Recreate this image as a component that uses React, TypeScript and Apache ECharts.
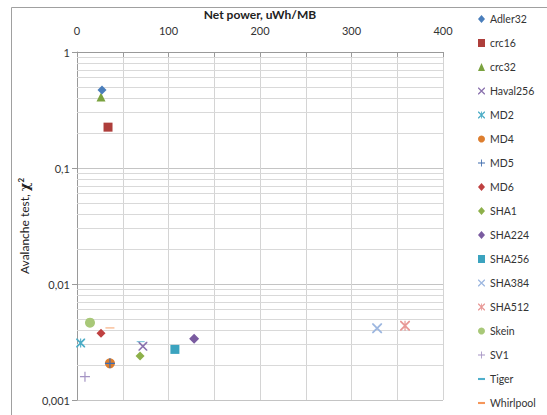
import React, { useEffect, useRef } from "react";
import * as echarts from "echarts";

const seriesNames = [
  "Adler32", "crc16", "crc32", "Haval256", "MD2", "MD4", "MD5", "MD6", "SHA1",
  "SHA224", "SHA256", "SHA384", "SHA512", "Skein", "SV1", "Tiger", "Whirlpool",
];
const netPower = [27.3, 33.9, 26.2, 72, 4, 36, 36, 26.2, 68.9, 128, 107, 328, 358.5, 14.2, 8.7, 69.6, 36];
const avalanche = [0.47, 0.225, 0.41, 0.0029, 0.0031, 0.00207, 0.00207, 0.00376, 0.00239, 0.00338, 0.00273, 0.00415, 0.00437, 0.00464, 0.00159, 0.00318, 0.00418];
const seriesColors = [
  "#4A7EBB", "#AE3E3B", "#7AA23F", "#8A72AE", "#4BACC6", "#DD7E2F", "#3F6DAE", "#BF4040", "#8DB04A",
  "#7A5BA0", "#3BA3BF", "#9DB7E0", "#E89896", "#A8C878", "#A594C4", "#4FAFCB", "#F5965A",
];
const yTickLabels = ["0,001", "0,01", "0,1", "1"];
const xTickLabels = ["0", "100", "200", "300", "400"];
const minorGridValues = [
  0.002, 0.003, 0.004, 0.005, 0.006, 0.007, 0.008, 0.009,
  0.02, 0.03, 0.04, 0.05, 0.06, 0.07, 0.08, 0.09,
  0.2, 0.3, 0.4, 0.5, 0.6, 0.7, 0.8, 0.9,
];

const X_PATH = "path://M0,0 L1.3,0 L10,8.7 L10,10 L8.7,10 L0,1.3 Z M8.7,0 L10,0 L10,1.3 L1.3,10 L0,10 L0,8.7 Z";
const STAR_PATH = X_PATH + " M4.4,0 L5.6,0 L5.6,10 L4.4,10 Z";
const PLUS_PATH = "path://M4.4,0 L5.6,0 L5.6,4.4 L10,4.4 L10,5.6 L5.6,5.6 L5.6,10 L4.4,10 L4.4,5.6 L0,5.6 L0,4.4 L4.4,4.4 Z";
const DASH_PATH = "path://M0,0 L10,0 L10,3 L0,3 Z";

const symbols: any[] = [
  ["diamond", 9], ["rect", 9], ["triangle", 9], [X_PATH, 9], [STAR_PATH, 9], ["circle", 10],
  [PLUS_PATH, 10], ["diamond", 9], ["diamond", 9], ["diamond", 10], ["rect", 9], [X_PATH, 10],
  [STAR_PATH, 10], ["circle", 10], [PLUS_PATH, 10], [DASH_PATH, [8, 2.8]], [DASH_PATH, [9, 3]],
];

const FONT = "Lato, 'Open Sans', sans-serif";

export default function App() {
  const ref = useRef<HTMLDivElement>(null);
  useEffect(() => {
    if (!ref.current) return;
    const chart = echarts.init(ref.current, undefined, { renderer: "svg" });
    const scatterSeries = seriesNames.map((name, i) => ({
      name,
      type: "scatter",
      data: [[netPower[i], avalanche[i]]],
      symbol: symbols[i][0],
      symbolSize: symbols[i][1],
      symbolKeepAspect: true,
      itemStyle: { color: seriesColors[i], opacity: 1 },
      z: i === 0 ? 6 : 3,
      silent: true,
    }));
    const gridSeries = {
      name: "minorGrid",
      type: "lines",
      coordinateSystem: "cartesian2d",
      silent: true,
      z: 1,
      lineStyle: { color: "#d9d9d9", width: 1, opacity: 1 },
      data: minorGridValues.map((v) => ({ coords: [[0, v], [400, v]] })),
    };
    chart.setOption({
      animation: false,
      textStyle: { fontFamily: FONT },
      grid: { left: 77, top: 52, width: 366, height: 348, containLabel: false },
      xAxis: {
        type: "value",
        position: "top",
        min: 0,
        max: 400,
        interval: 50,
        name: "Net power, uWh/MB",
        nameLocation: "middle",
        nameGap: 31,
        nameTextStyle: { fontWeight: "bold", fontSize: 12, color: "#222", fontFamily: FONT },
        axisLine: { show: true, lineStyle: { color: "#9a9a9a" } },
        axisTick: { show: true, inside: true, length: 5, lineStyle: { color: "#9a9a9a" } },
        axisLabel: {
          margin: 16,
          fontSize: 11,
          color: "#333",
          fontFamily: FONT,
          formatter: (v: number) => (Math.round(v) % 100 === 0 ? xTickLabels[Math.round(v / 100)] ?? "" : ""),
        },
        splitLine: { show: true, lineStyle: { color: "#d4d4d4", width: 1 } },
      },
      yAxis: {
        type: "log",
        logBase: 10,
        min: 0.001,
        max: 1,
        name: "Avalanche test, {chi|χ}{sup|2}",
        nameLocation: "middle",
        nameGap: 46,
        nameRotate: 90,
        nameTextStyle: {
          fontSize: 12,
          color: "#222",
          fontFamily: FONT,
          rich: {
            chi: { fontSize: 13, fontWeight: "bold", fontFamily: "'DejaVu Serif', serif", color: "#222" },
            sup: { fontSize: 8, fontWeight: "bold", verticalAlign: "top", color: "#222", padding: [0, 0, 6, 0] },
          },
        },
        axisLine: { show: true, lineStyle: { color: "#9a9a9a" } },
        axisTick: { show: true, length: 5, lineStyle: { color: "#9a9a9a" } },
        axisLabel: {
          margin: 7,
          fontSize: 11,
          color: "#333",
          fontFamily: FONT,
          formatter: (_v: number, idx: number) => yTickLabels[idx] ?? "",
        },
        splitLine: { show: true, lineStyle: { color: "#c4c4c4", width: 1 } },
      },
      legend: {
        orient: "vertical",
        left: 478,
        top: 12,
        padding: 0,
        itemWidth: 7,
        itemHeight: 8,
        itemGap: 10,
        data: seriesNames,
        selectedMode: false,
        textStyle: { fontSize: 10.5, color: "#333", fontFamily: FONT, lineHeight: 14 },
      },
      graphic: [
        { type: "line", shape: { x1: 11.5, y1: 7.5, x2: 547, y2: 7.5 }, style: { stroke: "#a0a0a0", lineWidth: 1 } },
        { type: "line", shape: { x1: 11.5, y1: 7.5, x2: 11.5, y2: 415 }, style: { stroke: "#a0a0a0", lineWidth: 1 } },
      ],
      series: [gridSeries, ...scatterSeries],
    });
    return () => chart.dispose();
  }, []);
  return (
    <div
      ref={ref}
      style={{ position: "fixed", left: 0, top: 0, width: 547, height: 415, background: "#fff" }}
    />
  );
}
